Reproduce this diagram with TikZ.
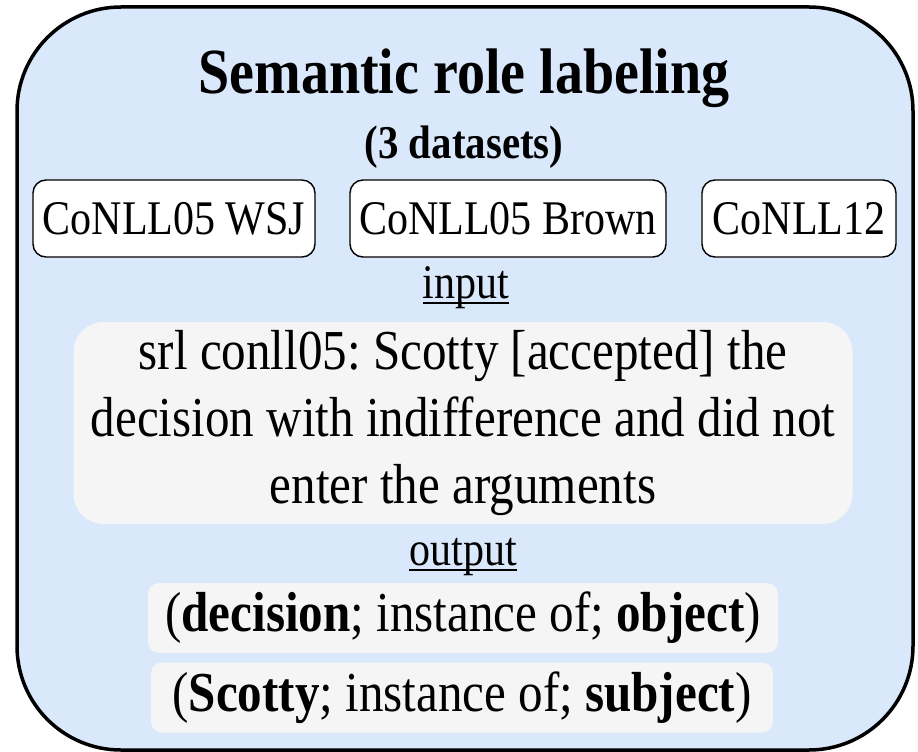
\documentclass[tikz,border=0pt]{standalone}
\usepackage{fontspec}
\setmainfont[FakeStretch=0.87]{Liberation Serif}
\frenchspacing
\newcommand\myul[1]{\setbox0\hbox{#1}\rlap{\rule[-6pt]{\wd0}{2pt}}\box0}
\definecolor{srlblue}{HTML}{DAE8FC}
\definecolor{srlgrey}{HTML}{F5F5F5}
\tikzset{
  frame/.style={draw=black, line width=3.5pt, fill=srlblue, rounded corners=104pt, inner sep=0pt},
  dsbox/.style={draw=black, line width=1.4pt, fill=white, rounded corners=13pt, inner sep=0pt,
    minimum height=77pt, text height=32pt, text depth=0pt, font=\fontsize{48.3}{56}\selectfont},
  greybox/.style={fill=srlgrey, rounded corners=30pt, inner sep=0pt, align=center,
    font=\fontsize{56.4}{67}\selectfont},
  outbox/.style={fill=srlgrey, rounded corners=11pt, inner sep=0pt, minimum height=70pt,
    text height=27pt, text depth=0pt, font=\fontsize{56.4}{64}\selectfont},
  lbl/.style={inner sep=0pt, anchor=base, font=\fontsize{48.3}{56}\selectfont}
}
\begin{document}
\begin{tikzpicture}[x=1pt,y=-1pt]
\useasboundingbox (0,0) rectangle (918,752);
\node[frame, minimum width=896pt, minimum height=743pt] (frame) at (465,378.5) {};
\node[inner sep=0pt, anchor=base, font=\fontsize{64.4}{72}\selectfont\bfseries] (title) at (464,93) {Semantic role labeling};
\node[inner sep=0pt, anchor=base, font=\fontsize{47}{54}\selectfont\bfseries] (sub) at (464,158) {(3 datasets)};
\node[dsbox, minimum width=282pt] (wsj) at (174,218.5) {CoNLL05 WSJ};
\node[dsbox, minimum width=316pt] (brown) at (508,218.5) {CoNLL05 Brown};
\node[dsbox, minimum width=194pt] (c12) at (799,218.5) {CoNLL12};
\node[lbl] (input) at (466,298) {\myul{input}};
\node[greybox, minimum width=779pt, minimum height=202pt] (body) at (463,423)
  {srl conll05: Scotty [accepted] the\\ decision with indifference and did not\\ enter the arguments};
\node[lbl] (output) at (463,565) {\myul{output}};
\node[outbox, minimum width=630pt] (o1) at (463,618) {(\textbf{decision}; instance of; \textbf{object})};
\node[outbox, minimum width=622pt] (o2) at (462,697.5) {(\textbf{Scotty}; instance of; \textbf{subject})};
\end{tikzpicture}
\end{document}
